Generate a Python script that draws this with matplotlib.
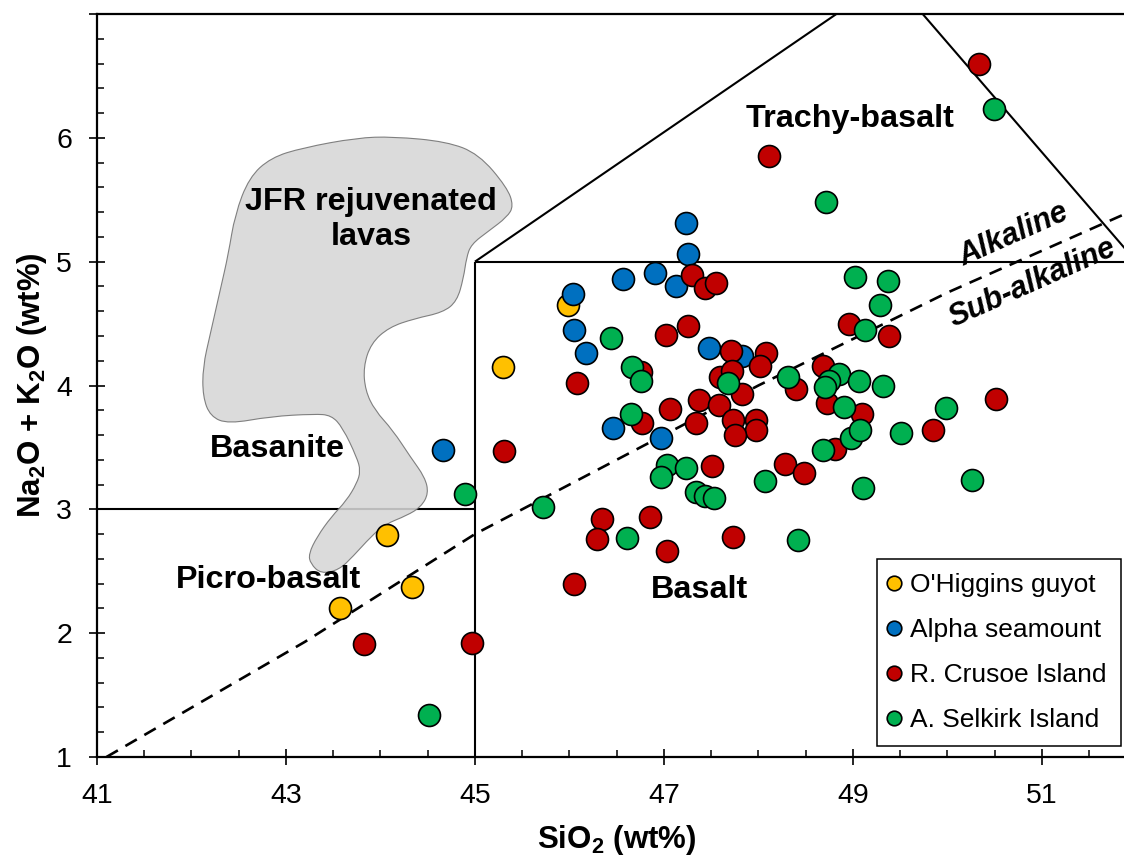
import matplotlib
matplotlib.use('Agg')
import matplotlib.pyplot as plt
from matplotlib.path import Path
from matplotlib.patches import PathPatch
from matplotlib.lines import Line2D
from matplotlib.ticker import MultipleLocator, FixedLocator, FixedFormatter

plt.rcParams['font.family'] = ['Liberation Sans', 'DejaVu Sans']
plt.rcParams['mathtext.fontset'] = 'custom'
plt.rcParams['mathtext.bf'] = 'Liberation Sans:bold'
plt.rcParams['mathtext.rm'] = 'Liberation Sans'
plt.rcParams['mathtext.default'] = 'bf'

# ---------------- data ----------------
series_names = ["O'Higgins guyot", "Alpha seamount", "R. Crusoe Island", "A. Selkirk Island"]
series_colors = ["#FFC000", "#0070C0", "#C00000", "#00B050"]

ohiggins_sio2 = [45.99, 45.30, 44.07, 44.33, 43.57]
ohiggins_alk = [4.65, 4.15, 2.79, 2.37, 2.20]

alpha_sio2 = [44.66, 47.23, 47.25, 46.57, 46.91, 47.13, 46.04, 46.05, 46.18, 47.48, 47.83, 46.46, 46.97]
alpha_alk = [3.48, 5.31, 5.06, 4.86, 4.91, 4.80, 4.74, 4.45, 4.26, 4.30, 4.24, 3.66, 3.58]

crusoe_sio2 = [50.33, 48.11, 47.30, 47.44, 47.55, 47.02, 47.25, 46.08, 46.76, 47.59,
               47.37, 47.07, 47.58, 46.77, 47.34, 45.31, 46.35, 46.29, 46.85, 47.03,
               46.05, 48.96, 49.38, 47.71, 48.08, 48.02, 47.72, 47.83, 47.73, 47.97,
               47.97, 47.75, 48.40, 48.68, 48.73, 49.10, 47.51, 48.28, 48.48, 48.81,
               49.85, 50.51, 47.73, 43.83, 44.97]
crusoe_alk = [6.60, 5.85, 4.89, 4.79, 4.83, 4.41, 4.48, 4.02, 4.11, 4.07,
              3.88, 3.81, 3.84, 3.70, 3.70, 3.47, 2.92, 2.76, 2.94, 2.66,
              2.40, 4.50, 4.40, 4.28, 4.26, 4.16, 4.12, 3.93, 3.72, 3.72,
              3.64, 3.60, 3.97, 4.16, 3.86, 3.77, 3.35, 3.37, 3.29, 3.49,
              3.64, 3.89, 2.78, 1.91, 1.92]

selkirk_sio2 = [50.49, 48.72, 46.44, 46.66, 46.76, 46.65, 44.89, 45.72, 47.03, 47.23,
                46.97, 47.34, 47.44, 47.53, 46.61, 49.02, 49.37, 49.29, 49.13, 47.68,
                48.31, 48.85, 48.75, 48.71, 48.91, 49.06, 49.32, 49.99, 48.07, 48.68,
                48.98, 49.08, 49.51, 49.11, 50.26, 48.42, 44.51]
selkirk_alk = [6.23, 5.48, 4.38, 4.15, 4.04, 3.77, 3.12, 3.02, 3.36, 3.33,
               3.26, 3.14, 3.11, 3.09, 2.77, 4.88, 4.84, 4.65, 4.45, 4.02,
               4.07, 4.09, 4.04, 3.99, 3.83, 4.04, 4.00, 3.82, 3.23, 3.48,
               3.58, 3.64, 3.62, 3.17, 3.24, 2.75, 1.34]

# TAS field boundaries (Le Bas et al.)
field_lines = [
    ([41, 45], [3, 3]),
    ([45, 45], [1, 5]),
    ([45, 52], [5, 5]),
    ([45, 49.4], [5, 7.3]),
    ([49.4, 52], [7.3, 5]),
]
# Alkaline / sub-alkaline divide
divide_x = [41.1, 43.2, 45.0, 48.0, 50.0, 53.7]
divide_y = [1.0, 1.93, 2.8, 4.0, 4.75, 6.0]

# JFR rejuvenated lavas field outline
jfr_x = [43.75, 44.13, 44.70, 45.04, 45.34, 45.41, 45.34, 45.15, 44.96, 44.91,
         44.88, 44.81, 44.66, 44.36, 44.09, 43.90, 43.82, 43.84, 43.94, 44.13,
         44.32, 44.47, 44.51, 44.43, 44.28, 44.05, 43.90, 43.71, 43.56, 43.37,
         43.26, 43.24, 43.33, 43.48, 43.64, 43.75, 43.79, 43.75, 43.60, 43.48,
         43.30, 42.84, 42.39, 42.20, 42.12, 42.12, 42.20, 42.31, 42.39, 42.46,
         42.61, 42.84, 43.18]
jfr_y = [6.00, 6.01, 5.97, 5.87, 5.60, 5.45, 5.36, 5.25, 5.14, 5.03,
         4.87, 4.68, 4.59, 4.54, 4.47, 4.34, 4.15, 3.96, 3.80, 3.64,
         3.42, 3.26, 3.13, 3.02, 2.95, 2.88, 2.78, 2.62, 2.51, 2.48,
         2.56, 2.64, 2.78, 2.94, 3.07, 3.21, 3.31, 3.42, 3.66, 3.76,
         3.77, 3.75, 3.69, 3.75, 3.91, 4.15, 4.42, 4.79, 5.06, 5.38,
         5.68, 5.84, 5.92]

field_labels = [
    ("Trachy-basalt", 48.97, 6.155),
    ("JFR rejuvenated\nlavas", 43.90, 5.34),
    ("Basanite", 42.91, 3.49),
    ("Picro-basalt", 42.81, 2.43),
    ("Basalt", 47.38, 2.35),
]

x_major = [41, 43, 45, 47, 49, 51]
y_major = [1, 2, 3, 4, 5, 6, 7]
y_major_labels = ['1', '2', '3', '4', '5', '6', '']

# ---------------- figure ----------------
W, H = 1124, 856
fig = plt.figure(figsize=(W / 100, H / 100), dpi=100)
ax = fig.add_axes([97 / W, 1 - 757 / H, 1027 / W, 743 / H])
ax.set_xlim(41, 51.87)
ax.set_ylim(1, 7)

for xs, ys in field_lines:
    ax.plot(xs, ys, color='black', lw=1.5, zorder=2, solid_capstyle='butt')

ax.plot(divide_x, divide_y, color='black', lw=1.9, ls=(0, (5.0, 3.3)), zorder=2)

# smooth JFR field using quadratic curve segments
pts = list(zip(jfr_x, jfr_y))
n = len(pts)
mid = lambda a, b: ((a[0] + b[0]) / 2, (a[1] + b[1]) / 2)
verts = [mid(pts[0], pts[1])]
codes = [Path.MOVETO]
for i in range(1, n + 1):
    p = pts[i % n]
    q = pts[(i + 1) % n]
    verts += [p, mid(p, q)]
    codes += [Path.CURVE3, Path.CURVE3]
verts.append(verts[0])
codes.append(Path.CLOSEPOLY)
patch = PathPatch(Path(verts, codes), facecolor=(0.84, 0.84, 0.84), alpha=0.88,
                  edgecolor='#707070', lw=0.8, zorder=3)
ax.add_patch(patch)

all_x = [ohiggins_sio2, alpha_sio2, crusoe_sio2, selkirk_sio2]
all_y = [ohiggins_alk, alpha_alk, crusoe_alk, selkirk_alk]
for k, (xs, ys) in enumerate(zip(all_x, all_y)):
    ax.scatter(xs, ys, s=250, facecolor=series_colors[k], edgecolor='black',
               linewidth=1.2, zorder=4 + k, clip_on=False)

for txt, x, y in field_labels:
    ax.text(x, y, txt, fontsize=23.3, fontweight='bold', ha='center', va='center',
            linespacing=1.2, zorder=10)

ax.text(50.70, 5.22, "Alkaline", fontsize=22, fontweight='bold', style='italic',
        rotation=24, rotation_mode='anchor', ha='center', va='center', zorder=10)
ax.text(50.90, 4.83, "Sub-alkaline", fontsize=22, fontweight='bold', style='italic',
        rotation=24, rotation_mode='anchor', ha='center', va='center', zorder=10)

# axes styling
for s in ['left', 'bottom', 'top']:
    ax.spines[s].set_linewidth(1.6)
ax.spines['right'].set_visible(False)

ax.xaxis.set_major_locator(FixedLocator(x_major))
ax.xaxis.set_minor_locator(MultipleLocator(0.5))
ax.yaxis.set_major_locator(FixedLocator(y_major))
ax.yaxis.set_major_formatter(FixedFormatter(y_major_labels))
ax.yaxis.set_minor_locator(MultipleLocator(0.2))
ax.tick_params(which='major', direction='inout', length=12, width=1.2, labelsize=20.5)
ax.tick_params(axis='x', which='major', pad=13)
ax.tick_params(axis='y', which='major', pad=12)
ax.tick_params(which='minor', direction='in', length=4.7, width=1.1)
ax.tick_params(top=False, right=False, which='both')

ax.set_xlabel(r'SiO$_2$ (wt%)', fontsize=22.5, fontweight='bold')
ax.set_ylabel(r'Na$_2$O + K$_2$O (wt%)', fontsize=22.5, fontweight='bold')
ax.xaxis.set_label_coords(0.506, -0.089)
ax.yaxis.set_label_coords(-0.047, 0.5)

handles = [Line2D([], [], ls='none', marker='o', markersize=10.5,
                  markerfacecolor=c, markeredgecolor='black', markeredgewidth=1.2)
           for c in series_colors]
leg = ax.legend(handles, series_names, loc='upper left', bbox_to_anchor=(0.7598, 0.2661),
                borderaxespad=0, fontsize=19, frameon=True, fancybox=False,
                edgecolor='black', framealpha=1, borderpad=0.53, handlelength=0.2,
                handletextpad=0.52, labelspacing=0.79)
leg.get_frame().set_linewidth(1.1)
leg.set_zorder(20)

fig.savefig('out.png', dpi=100)
